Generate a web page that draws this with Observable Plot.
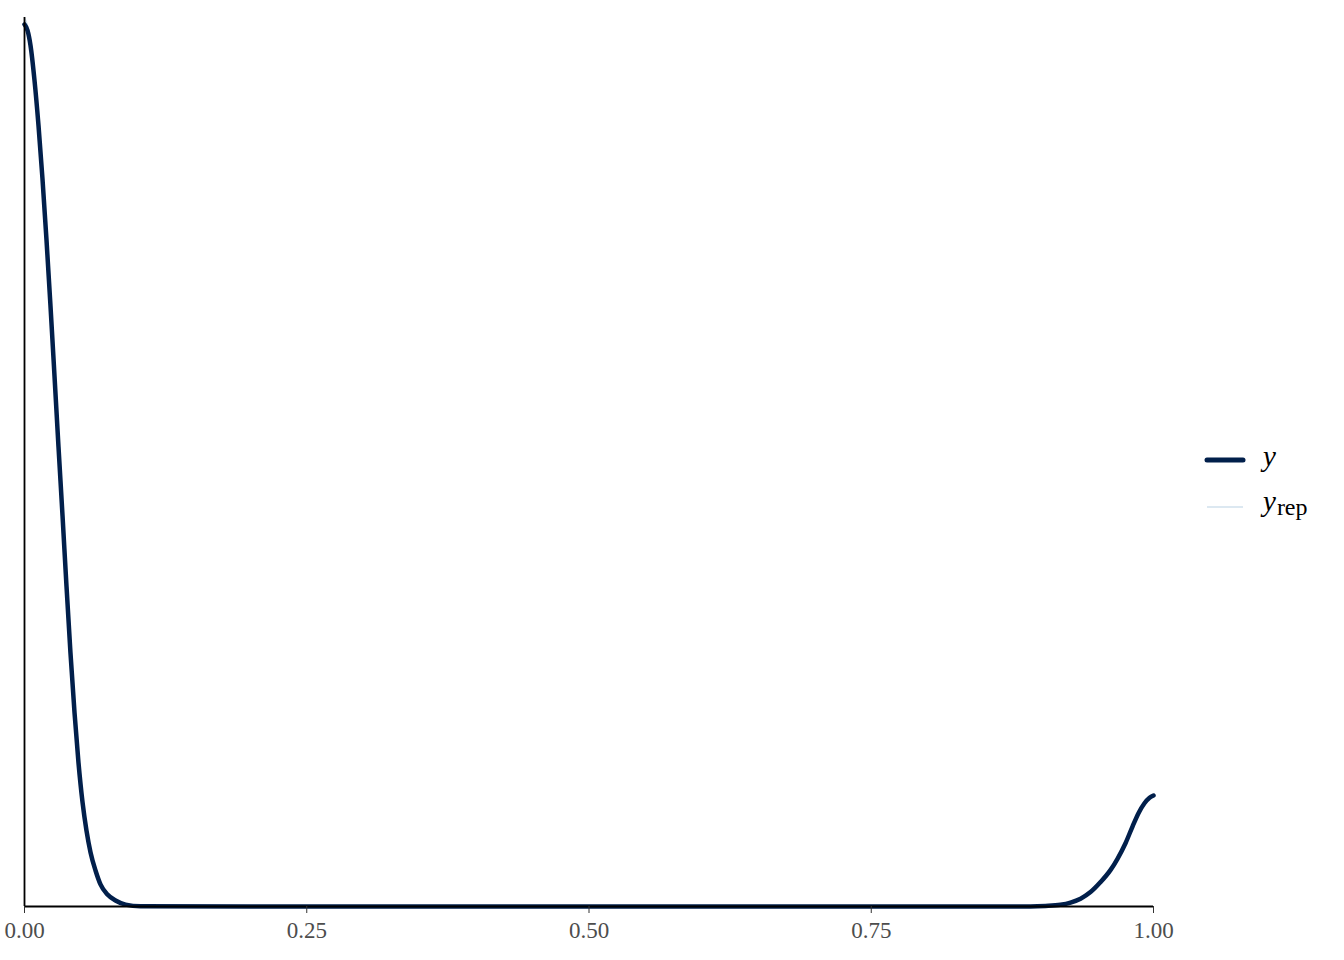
<!DOCTYPE html>
<html>
<head>
<meta charset="utf-8">
<script src="https://cdn.jsdelivr.net/npm/d3@7"></script>
<script src="https://cdn.jsdelivr.net/npm/@observablehq/plot@0.6"></script>
<style>
  html, body { margin: 0; padding: 0; background: #fff; }
  #wrap { position: relative; width: 1344px; height: 960px; font-family: "Liberation Serif", "DejaVu Serif", serif; }
  #legend { position: absolute; left: 0; top: 0; }
</style>
</head>
<body>
<div id="wrap"></div>
<script>
// Evaluation grid (x in [0,1])
const xs = [0, 0.00266, 0.00531, 0.00886, 0.0124, 0.0159, 0.0195, 0.0230, 0.0266, 0.0301, 0.0337, 0.0372, 0.0407, 0.0443, 0.0478, 0.0514, 0.0549, 0.0585, 0.0629, 0.0673, 0.0735, 0.0806, 0.0895, 0.1027, 0.2, 0.3, 0.4, 0.5, 0.6, 0.7, 0.8, 0.891, 0.9043, 0.9176, 0.9265, 0.9354, 0.9442, 0.9531, 0.962, 0.9681, 0.9752, 0.9814, 0.9867, 0.992, 0.9965, 1];

// Observed density y
const yDens = [18.375, 18.25, 17.94, 17.21, 16.27, 15.17, 13.88, 12.52, 11.04, 9.58, 8.13, 6.67, 5.29, 4.04, 3.0, 2.17, 1.58, 1.125, 0.75, 0.46, 0.25, 0.125, 0.04, 0.004, 0, 0, 0, 0, 0, 0, 0, 0, 0.01, 0.035, 0.081, 0.162, 0.30, 0.509, 0.763, 0.994, 1.318, 1.665, 1.943, 2.151, 2.266, 2.3125];

// Replicated densities y_rep (mostly hidden beneath y)
const yrep1 = [18.52, 18.36, 18.0, 17.24, 16.28, 15.17, 13.87, 12.5, 11.02, 9.56, 8.11, 6.66, 5.28, 4.04, 3.0, 2.18, 1.59, 1.13, 0.76, 0.47, 0.25, 0.125, 0.04, 0.004, 0, 0, 0, 0, 0, 0, 0, 0, 0.01, 0.034, 0.08, 0.16, 0.297, 0.505, 0.758, 0.988, 1.31, 1.656, 1.935, 2.143, 2.258, 2.305];
const yrep2 = [18.46, 18.3, 17.97, 17.22, 16.26, 15.16, 13.89, 12.53, 11.05, 9.59, 8.14, 6.68, 5.3, 4.05, 3.0, 2.17, 1.58, 1.12, 0.75, 0.46, 0.25, 0.12, 0.04, 0.004, 0, 0, 0, 0, 0, 0, 0, 0, 0.01, 0.036, 0.082, 0.164, 0.303, 0.513, 0.768, 1.0, 1.326, 1.674, 1.951, 2.159, 2.274, 2.32];
const yrep3 = [18.42, 18.28, 17.95, 17.2, 16.27, 15.18, 13.88, 12.52, 11.04, 9.58, 8.13, 6.67, 5.29, 4.04, 3.0, 2.17, 1.58, 1.125, 0.75, 0.46, 0.25, 0.125, 0.04, 0.004, 0, 0, 0, 0, 0, 0, 0, 0, 0.01, 0.035, 0.081, 0.162, 0.30, 0.509, 0.763, 0.994, 1.318, 1.665, 1.943, 2.151, 2.266, 2.3125];

const xTicks = [0, 0.25, 0.5, 0.75, 1];
const yTop = 18.52;

const darkBlue = "#011f4b";
const lightBlue = "#d1e1ec";

const obs = xs.map((x, i) => ({x, d: yDens[i]}));
const reps = [yrep1, yrep2, yrep3].flatMap((arr, k) => xs.map((x, i) => ({x, d: arr[i], rep: k})));

const chart = Plot.plot({
  width: 1344,
  height: 960,
  marginLeft: 24,
  marginRight: 191,
  marginTop: 17,
  marginBottom: 54,
  style: { fontFamily: "Liberation Serif, serif", background: "white" },
  x: { domain: [0, 1], axis: null },
  y: { domain: [0, yTop], axis: null },
  marks: [
    Plot.line(reps, { x: "x", y: "d", z: "rep", stroke: lightBlue, strokeWidth: 1.2, curve: "monotone-x" }),
    Plot.line(obs, { x: "x", y: "d", stroke: darkBlue, strokeWidth: 4.5, curve: "monotone-x", strokeLinejoin: "round" }),
    Plot.ruleX([0], { stroke: "black", strokeWidth: 1.8 }),
    Plot.ruleY([0], { stroke: "black", strokeWidth: 1.8 }),
    Plot.axisX({ ticks: xTicks, tickFormat: d3.format(".2f"), label: null, tickSize: 7, tickPadding: 8, fontSize: 23, fill: "#4d4d4d", stroke: "#333333", strokeWidth: 1 })
  ]
});
document.getElementById("wrap").appendChild(chart);

// Legend
const leg = d3.select("#wrap").append("svg").attr("id", "legend").attr("width", 1344).attr("height", 960);
leg.append("line").attr("x1", 1207).attr("x2", 1243).attr("y1", 460).attr("y2", 460)
  .attr("stroke", darkBlue).attr("stroke-width", 5).attr("stroke-linecap", "round");
leg.append("text").attr("x", 1263).attr("y", 466).attr("font-size", 29).attr("font-style", "italic")
  .attr("font-family", "Liberation Serif, serif").attr("fill", "black").text("y");
leg.append("line").attr("x1", 1207).attr("x2", 1243).attr("y1", 507).attr("y2", 507)
  .attr("stroke", lightBlue).attr("stroke-width", 1.3);
const t2 = leg.append("text").attr("x", 1263).attr("y", 511).attr("font-size", 29)
  .attr("font-family", "Liberation Serif, serif").attr("fill", "black");
t2.append("tspan").attr("font-style", "italic").text("y");
t2.append("tspan").attr("font-size", 24).attr("dy", 4).attr("dx", 1).text("rep");
</script>
</body>
</html>
